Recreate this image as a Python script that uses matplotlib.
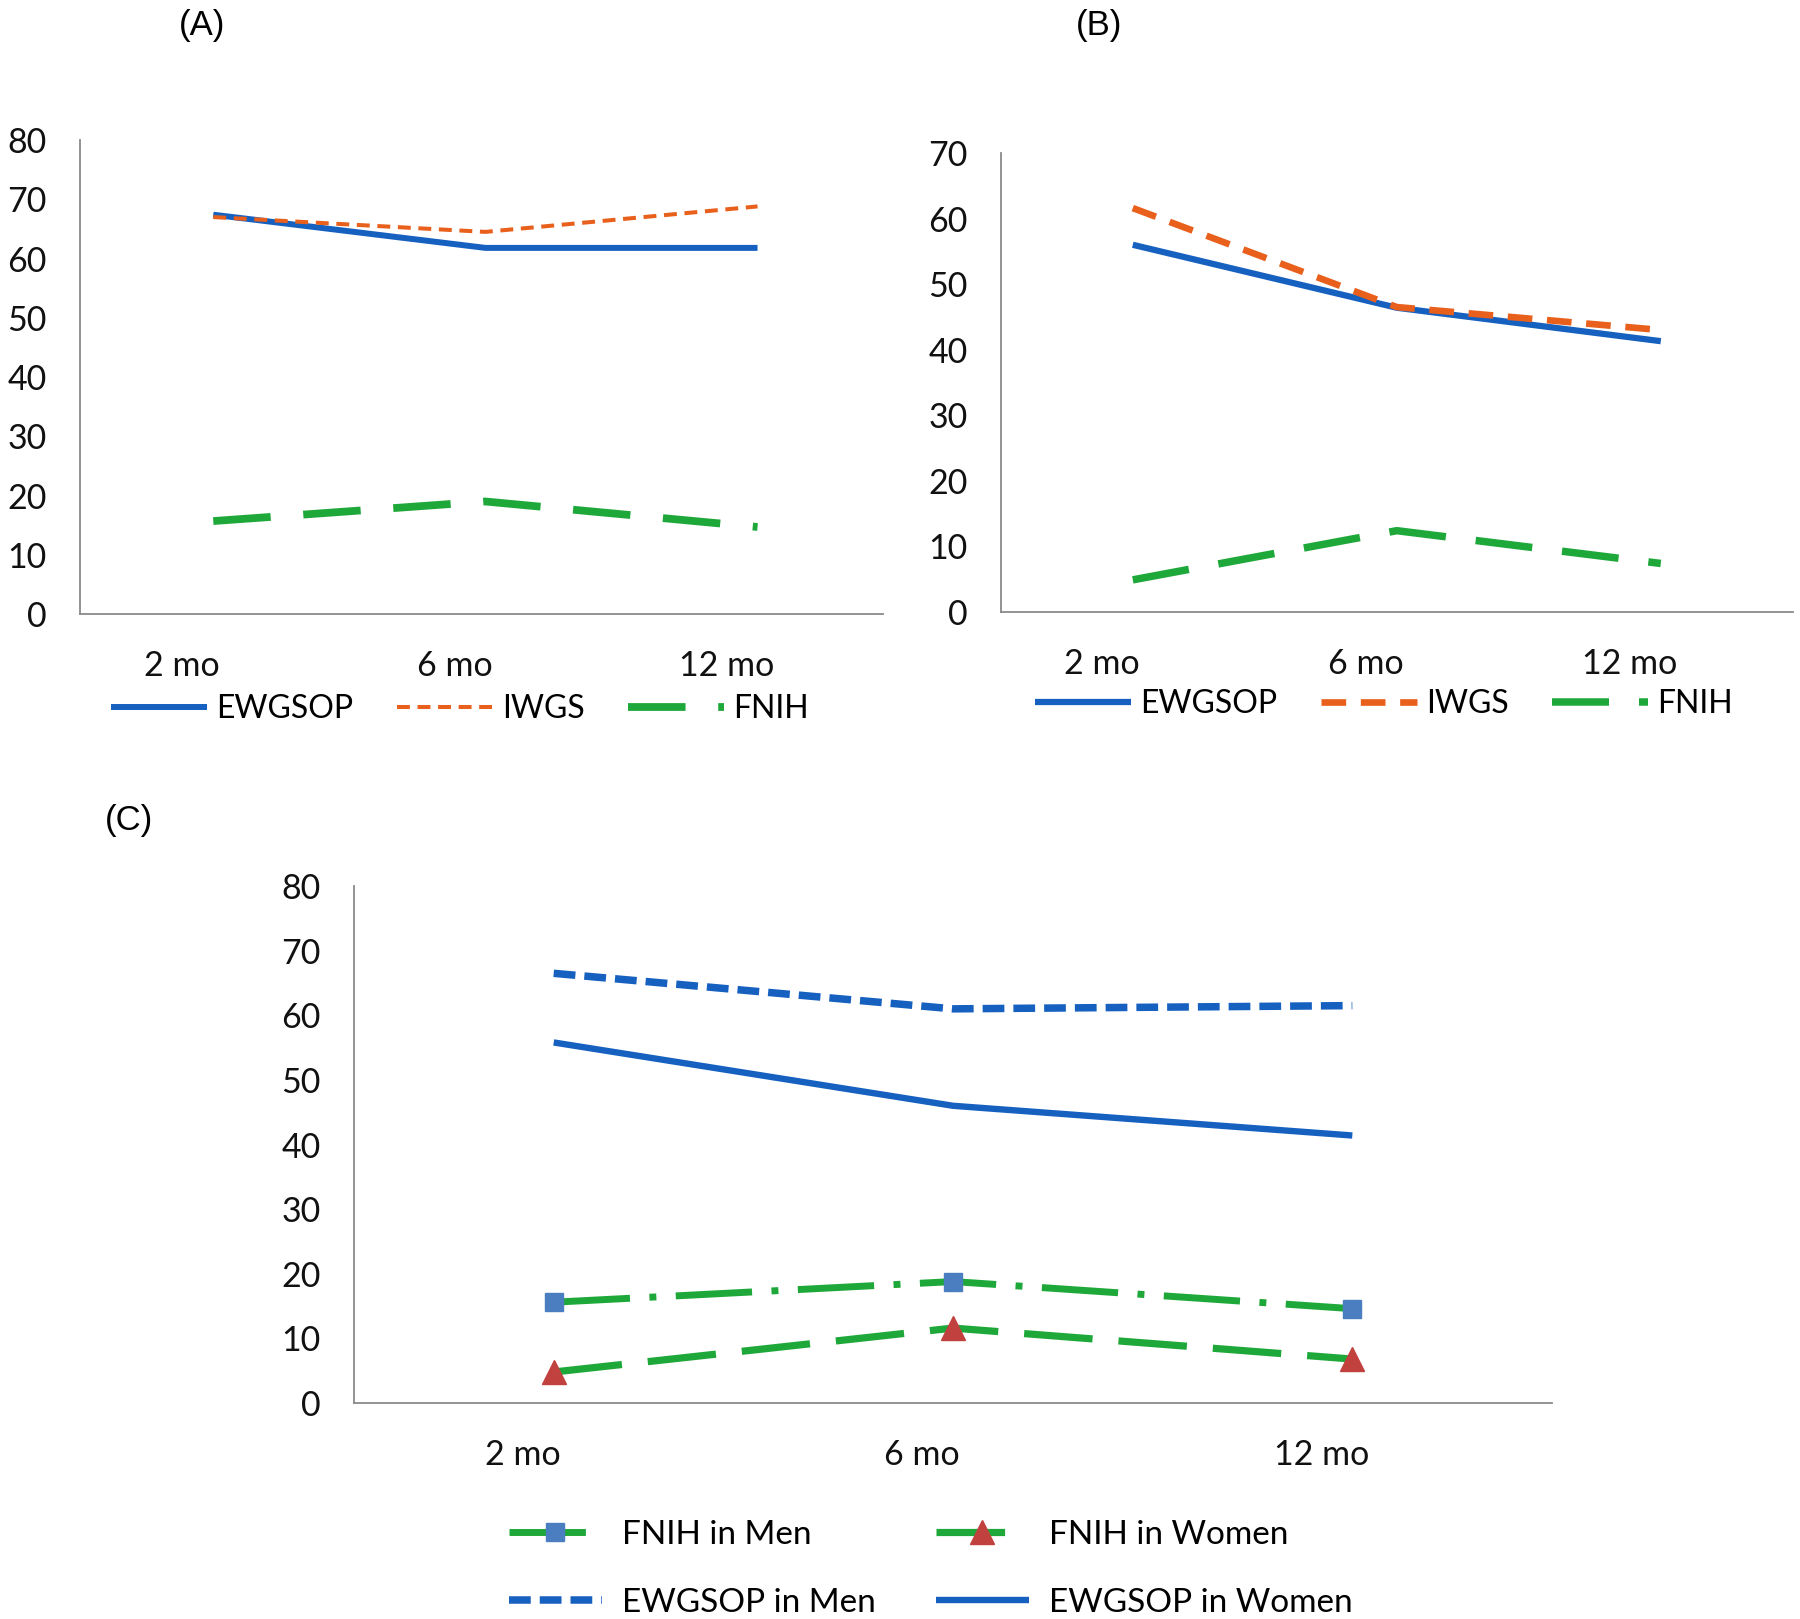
import matplotlib
matplotlib.use("Agg")
import matplotlib.pyplot as plt
from matplotlib.transforms import ScaledTranslation

# fonte parecida com a do Excel
plt.rcParams['font.family'] = ['Lato', 'DejaVu Sans']

meses = ["2 mo", "6 mo", "12 mo"]

# painel A
a_ewgsop = [67.4, 61.8, 61.8]
a_iwgs = [67.0, 64.5, 68.8]
a_fnih = [15.7, 19.0, 14.7]

# painel B
b_ewgsop = [56.0, 46.4, 41.3]
b_iwgs = [61.6, 46.5, 43.0]
b_fnih = [4.9, 12.4, 7.4]

# painel C
c_fnih_men = [15.6, 18.8, 14.6]
c_fnih_women = [4.8, 11.6, 6.8]
c_ewgsop_men = [66.5, 61.0, 61.5]
c_ewgsop_women = [55.8, 46.0, 41.4]

azul = '#1660c0'
laranja = '#e8601c'
verde = '#1fa83a'
azul_marc = '#4a7ec0'
vermelho = '#c0413e'

fig = plt.figure(figsize=(18, 16.19), dpi=100)


def eixo(rect, ymax, xlim=(-0.5, 2.5)):
    ax = fig.add_axes(rect)
    ax.set_xlim(*xlim)
    ax.set_ylim(0, ymax)
    ax.set_yticks(range(0, ymax + 1, 10))
    ax.set_xticks(range(len(meses)))
    ax.set_xticklabels(meses)
    for s in ['top', 'right']:
        ax.spines[s].set_visible(False)
    for s in ['left', 'bottom']:
        ax.spines[s].set_color('#8a8a8a')
        ax.spines[s].set_linewidth(1.3)
    ax.tick_params(axis='y', length=0, labelsize=24.5, pad=24, labelcolor='#111111')
    ax.tick_params(axis='x', length=0, labelsize=24.5, pad=26, labelcolor='#111111')
    # rotulos do eixo x ficam um pouco para a esquerda no original
    desloc = ScaledTranslation(-0.31, 0, fig.dpi_scale_trans)
    for lab in ax.get_xticklabels():
        lab.set_transform(lab.get_transform() + desloc)
    return ax


x = range(len(meses))

# ---------------- (A) ----------------
axA = eixo([0.0444, 0.6207, 0.446, 0.2928], 80, xlim=(-0.49, 2.46))
axA.plot(x, a_ewgsop, color=azul, lw=4.3, label='EWGSOP', solid_capstyle='butt')
axA.plot(x, a_iwgs, color=laranja, lw=2.9, linestyle=(0, (3.2, 1.9)), label='IWGS')
axA.plot(x, a_fnih, color=verde, lw=5.6, linestyle=(0, (7.4, 4.2)), label='FNIH')
axA.legend(loc='center', bbox_to_anchor=(0.2555, 0.562), bbox_transform=fig.transFigure,
           ncol=3, frameon=False, fontsize=23, handlelength=3.0, handletextpad=0.3,
           columnspacing=1.35)

# ---------------- (B) ----------------
axB = eixo([0.556, 0.622, 0.44, 0.2835], 70)
axB.plot(x, b_ewgsop, color=azul, lw=4.5, label='EWGSOP', solid_capstyle='butt')
axB.plot(x, b_iwgs, color=laranja, lw=4.8, linestyle=(0, (3.7, 2.2)), label='IWGS')
axB.plot(x, b_fnih, color=verde, lw=5.4, linestyle=(0, (7.6, 4.0)), label='FNIH')
axB.legend(loc='center', bbox_to_anchor=(0.769, 0.565), bbox_transform=fig.transFigure,
           ncol=3, frameon=False, fontsize=23, handlelength=3.0, handletextpad=0.3,
           columnspacing=1.35)

# ---------------- (C) ----------------
axC = eixo([0.1967, 0.1334, 0.6655, 0.3193], 80)
l1, = axC.plot(x, c_fnih_men, color=verde, lw=5.0, linestyle=(0, (11.0, 2.8, 1.0, 2.8)),
               marker='s', markersize=12.5, markerfacecolor=azul_marc,
               markeredgecolor=azul_marc, label='FNIH in Men')
l2, = axC.plot(x, c_fnih_women, color=verde, lw=5.2, linestyle=(0, (9.5, 3.6)),
               marker='^', markersize=17, markerfacecolor=vermelho,
               markeredgecolor=vermelho, label='FNIH in Women')
l3, = axC.plot(x, c_ewgsop_men, color=azul, lw=5.4, linestyle=(0, (2.9, 1.2)),
               label='EWGSOP in Men')
l4, = axC.plot(x, c_ewgsop_women, color=azul, lw=4.6, label='EWGSOP in Women',
               solid_capstyle='butt')
axC.legend(handles=[l1, l3, l2, l4], loc='center', bbox_to_anchor=(0.517, 0.031),
           bbox_transform=fig.transFigure, ncol=2, frameon=False, fontsize=24,
           handlelength=2.8, handletextpad=0.6, columnspacing=1.8, labelspacing=1.15)

# rotulos dos paineis
fig.text(202 / 1800, 1 - 25 / 1619, "(A)", ha='center', va='center', fontsize=25,
         family=['Liberation Sans', 'DejaVu Sans'])
fig.text(1099 / 1800, 1 - 25 / 1619, "(B)", ha='center', va='center', fontsize=25,
         family=['Liberation Sans', 'DejaVu Sans'])
fig.text(129 / 1800, 1 - 820 / 1619, "(C)", ha='center', va='center', fontsize=25,
         family=['Liberation Sans', 'DejaVu Sans'])

fig.savefig("out.png", dpi=100)
